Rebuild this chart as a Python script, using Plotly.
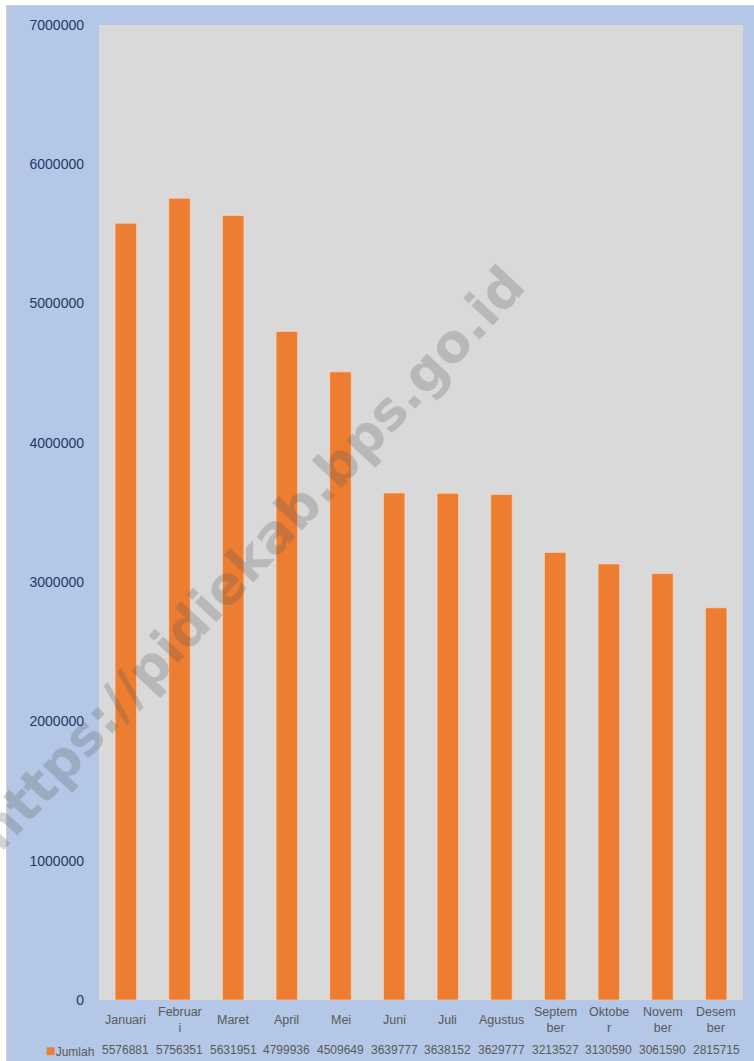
import plotly.graph_objects as go

categories = ["Januari", "Februari", "Maret", "April", "Mei", "Juni", "Juli",
              "Agustus", "September", "Oktober", "November", "Desember"]
axis_labels = ["Januari", "Februar<br>i", "Maret", "April", "Mei", "Juni", "Juli",
               "Agustus", "Septem<br>ber", "Oktobe<br>r", "Novem<br>ber", "Desem<br>ber"]
values = [5576881, 5756351, 5631951, 4799936, 4509649, 3639777, 3638152,
          3629777, 3213527, 3130590, 3061590, 2815715]
series_name = "Jumlah"
y_ticks = [0, 1000000, 2000000, 3000000, 4000000, 5000000, 6000000, 7000000]

W, H = 754, 1061
L, R, T, B = 99, 11, 25, 61
pw, ph = W - L - R, H - T - B

def px_x(px):
    return (px - L) / pw

def px_y(py):
    return (H - B - py) / ph

idx = list(range(len(categories)))

fig = go.Figure()
fig.add_trace(go.Bar(
    x=idx, y=values, width=0.4, name=series_name,
    marker=dict(color="#ED7D31", line=dict(color="rgba(255,220,190,0.6)", width=1)),
    showlegend=False,
))

font_main = "Liberation Sans, Arial, sans-serif"

annotations = []
# category labels
for i, lab in enumerate(axis_labels):
    annotations.append(dict(
        x=i, xref="x", y=px_y(1020), yref="paper", text=lab, showarrow=False,
        xanchor="center", yanchor="middle",
        font=dict(family=font_main, size=12.5, color="#595959"),
    ))
# data table row
for i, v in enumerate(values):
    annotations.append(dict(
        x=i, xref="x", y=px_y(1050), yref="paper", text=str(v), showarrow=False,
        xanchor="center", yanchor="middle",
        font=dict(family=font_main, size=12, color="#595959"),
    ))
annotations.append(dict(
    x=px_x(96), xref="paper", y=px_y(1050), yref="paper",
    text='<span style="color:#ED7D31;font-size:16px">■</span>' + series_name, showarrow=False,
    xanchor="right", yanchor="middle",
    font=dict(family=font_main, size=12, color="#595959"),
))
# watermark
annotations.append(dict(
    x=px_x(250), xref="paper", y=px_y(558), yref="paper",
    text="<b>https://pidiekab.bps.go.id</b>", showarrow=False, textangle=-47,
    xanchor="center", yanchor="middle",
    font=dict(family="DejaVu Sans, Arial, sans-serif", size=53, color="rgba(90,90,90,0.26)"),
))

shapes = [
    dict(type="rect", xref="paper", yref="paper", x0=px_x(-5), x1=px_x(W + 5),
         y0=px_y(5), y1=px_y(-5), fillcolor="white", line=dict(width=0), layer="below"),
    dict(type="rect", xref="paper", yref="paper", x0=px_x(-5), x1=px_x(6.5),
         y0=px_y(H + 5), y1=px_y(-5), fillcolor="white", line=dict(width=0), layer="below"),
    dict(type="line", xref="paper", yref="paper", x0=px_x(6), x1=px_x(W + 5),
         y0=px_y(5.5), y1=px_y(5.5), line=dict(color="#D0D0D0", width=1), layer="below"),
    dict(type="line", xref="paper", yref="paper", x0=px_x(6.5), x1=px_x(6.5),
         y0=px_y(H + 5), y1=px_y(5.5), line=dict(color="#D0D0D0", width=1), layer="below"),
]

fig.update_layout(
    width=W, height=H,
    margin=dict(l=L, r=R, t=T, b=B, pad=0),
    paper_bgcolor="#B4C7E7",
    plot_bgcolor="#D9D9D9",
    bargap=0.6,
    showlegend=False,
    annotations=annotations,
    shapes=shapes,
    xaxis=dict(range=[-0.5, len(categories) - 0.5], tickvals=idx,
               ticktext=[""] * len(idx), showgrid=False, zeroline=False,
               showline=False, ticks="", fixedrange=True),
    yaxis=dict(range=[0, 7000000], tickvals=y_ticks,
               ticktext=[str(t) for t in y_ticks], showgrid=False, zeroline=False,
               showline=False, ticks="", ticklabelstandoff=14,
               tickfont=dict(family=font_main, size=14, color="#1F3864")),
)

fig.write_html(
    "out.html",
    config={"displayModeBar": False},
    post_script="document.body.style.margin='0';document.body.style.overflow='hidden';",
)
